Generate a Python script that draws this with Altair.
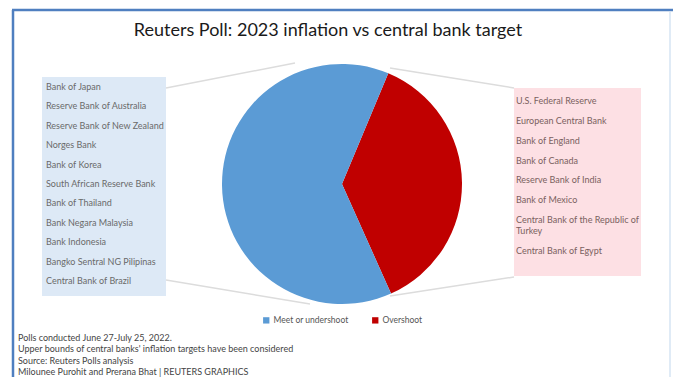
import altair as alt
import pandas as pd

# ---- data ----
categories = ["Overshoot", "Meet or undershoot"]
shares = [37, 63]
stack_order = [0, 1]

left_banks = [
    "Bank of Japan", "Reserve Bank of Australia", "Reserve Bank of New Zealand",
    "Norges Bank", "Bank of Korea", "South African Reserve Bank", "Bank of Thailand",
    "Bank Negara Malaysia", "Bank Indonesia", "Bangko Sentral NG Pilipinas",
    "Central Bank of Brazil",
]
right_banks = [
    "U.S. Federal Reserve", "European Central Bank", "Bank of England",
    "Bank of Canada", "Reserve Bank of India", "Bank of Mexico",
    "Central Bank of the Republic of\nTurkey", "Central Bank of Egypt",
]
footer_lines = [
    "Polls conducted June 27-July 25, 2022.",
    "Upper bounds of central banks' inflation targets have been considered",
    "Source: Reuters Polls analysis",
    "Milounee Purohit and Prerana Bhat | REUTERS GRAPHICS",
]
title_text = "Reuters Poll: 2023 inflation vs central bank target"

W, H = 673, 377
FONT = "Lato"
BLUE = "#5b9bd5"
RED = "#c00000"

pie_df = pd.DataFrame({"cat": categories, "v": shares, "ord": stack_order})
left_df = pd.DataFrame({"name": left_banks, "i": list(range(len(left_banks)))})

# slot position for right list: item index plus extra wrapped lines before it
extra_before = []
acc = 0
for nm in right_banks:
    extra_before.append(acc)
    acc += nm.count("\n")
right_df = pd.DataFrame({"name": right_banks,
                         "slot": [i + 0.56 * e for i, e in enumerate(extra_before)]})
foot_df = pd.DataFrame({"t": footer_lines, "i": list(range(len(footer_lines)))})
one = pd.DataFrame({"a": [0]})

base_one = alt.Chart(one)

frame_top = base_one.mark_rule(color="#4f7fc0", strokeWidth=2.5).encode(
    x=alt.value(12), x2=alt.value(W), y=alt.value(10), y2=alt.value(10))
frame_left = base_one.mark_rule(color="#4f7fc0", strokeWidth=2.5).encode(
    x=alt.value(13), x2=alt.value(13), y=alt.value(10), y2=alt.value(H))
frame_right = base_one.mark_rule(color="#d6e4f3", strokeWidth=1.5).encode(
    x=alt.value(670), x2=alt.value(670), y=alt.value(12), y2=alt.value(H))

left_box = base_one.mark_rect(color="#dde9f6").encode(
    x=alt.value(42), x2=alt.value(166), y=alt.value(77), y2=alt.value(296))
right_box = base_one.mark_rect(color="#fde0e4").encode(
    x=alt.value(514), x2=alt.value(641), y=alt.value(88), y2=alt.value(276))

conn_style = dict(color="#dcdcdc", strokeWidth=1.5)
c1 = base_one.mark_rule(**conn_style).encode(
    x=alt.value(166), x2=alt.value(295), y=alt.value(88), y2=alt.value(63))
c2 = base_one.mark_rule(**conn_style).encode(
    x=alt.value(166), x2=alt.value(310), y=alt.value(280), y2=alt.value(304))
c3 = base_one.mark_rule(**conn_style).encode(
    x=alt.value(390), x2=alt.value(514), y=alt.value(68), y2=alt.value(88))
c4 = base_one.mark_rule(**conn_style).encode(
    x=alt.value(390), x2=alt.value(514), y=alt.value(296), y2=alt.value(277))

start = 0.396
pie = alt.Chart(pie_df).mark_arc(radius=120).encode(
    theta=alt.Theta("v:Q", stack=True,
                    scale=alt.Scale(range=[start, start + 6.283185307])),
    order=alt.Order("ord:Q"),
    color=alt.Color("cat:N",
                    scale=alt.Scale(domain=["Meet or undershoot", "Overshoot"],
                                    range=[BLUE, RED]),
                    legend=alt.Legend(orient="none", legendX=262, legendY=316,
                                      direction="horizontal", title=None,
                                      symbolType="square", symbolSize=40,
                                      symbolStrokeWidth=0,
                                      labelFontSize=8.5, labelFont=FONT,
                                      labelColor="#555555", columnPadding=22,
                                      labelOffset=3)),
    x=alt.value(342), y=alt.value(184),
)

title = base_one.mark_text(text=title_text, font=FONT, fontSize=18,
                           color="#1a1a1a", align="center", baseline="middle").encode(
    x=alt.value(328), y=alt.value(31))

left_txt = alt.Chart(left_df).mark_text(font=FONT, fontSize=9, color="#6a6a6a",
                                        align="left", baseline="middle").encode(
    text="name:N",
    x=alt.value(46),
    y=alt.Y("i:Q", scale=alt.Scale(domain=[0, 10], range=[87, 281]), axis=None),
)

right_txt = alt.Chart(right_df).mark_text(font=FONT, fontSize=9, color="#7a6060",
                                          align="left", baseline="top",
                                          lineBreak="\n", lineHeight=11).encode(
    text="name:N",
    x=alt.value(516),
    y=alt.Y("slot:Q", scale=alt.Scale(domain=[0, 7], range=[97, 236]), axis=None),
)

foot_txt = alt.Chart(foot_df).mark_text(font=FONT, fontSize=9, color="#444444",
                                        align="left", baseline="middle").encode(
    text="t:N",
    x=alt.value(18),
    y=alt.Y("i:Q", scale=alt.Scale(domain=[0, 3], range=[338, 372]), axis=None),
)

chart = alt.layer(
    left_box, right_box, c1, c2, c3, c4, pie, title, left_txt, right_txt,
    foot_txt, frame_top, frame_left, frame_right,
).resolve_scale(y="independent").properties(
    width=W, height=H, padding=0, autosize=alt.AutoSizeParams(type="none"),
    background="white",
).configure_view(stroke=None)

chart.save("out.html", embed_options={"renderer": "svg", "actions": False})
